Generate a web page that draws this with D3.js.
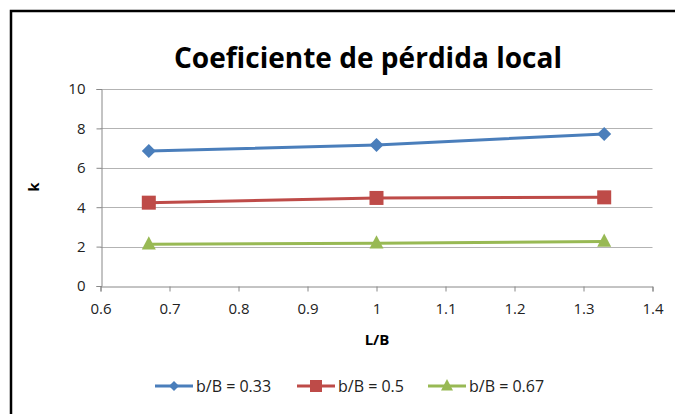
<!DOCTYPE html>
<html><head><meta charset="utf-8">
<script src="https://cdn.jsdelivr.net/npm/d3@7"></script>
<style>body{margin:0;background:#fff}svg{display:block}</style>
</head><body>
<svg id="c" width="675" height="414"></svg>
<script>
const xValues = [0.67, 1, 1.33];
const seriesNames = ["b/B = 0.33", "b/B = 0.5", "b/B = 0.67"];
const series033 = [6.85, 7.16, 7.72];
const series05 = [4.23, 4.47, 4.50];
const series067 = [2.12, 2.17, 2.26];
const xTicks = [0.6, 0.7, 0.8, 0.9, 1, 1.1, 1.2, 1.3, 1.4];
const yTicks = [0, 2, 4, 6, 8, 10];
const colors = ["#4a7ebb", "#be4b48", "#98b954"];
const markers = ["diamond", "square", "triangle"];

const svg = d3.select("#c");
const font = "Open Sans, Liberation Sans, sans-serif";

svg.append("rect").attr("x", 0).attr("y", 0).attr("width", 675).attr("height", 414).attr("fill", "#fff");
// frame
svg.append("path").attr("d", "M11,420 L11,11 L680,11").attr("fill", "none").attr("stroke", "#000").attr("stroke-width", 2.5);

const x = d3.scaleLinear().domain([0.6, 1.4]).range([100.5, 652.5]);
const y = d3.scaleLinear().domain([0, 10]).range([286, 89]);

// gridlines
svg.append("g").selectAll("line").data(yTicks.filter(d => d > 0)).join("line")
  .attr("x1", x(0.6)).attr("x2", x(1.4)).attr("y1", d => Math.round(y(d)) + 0.5).attr("y2", d => Math.round(y(d)) + 0.5)
  .attr("stroke", "#b3b3b3").attr("stroke-width", 1);

const xAxis = svg.append("g").attr("transform", `translate(0,${Math.round(y(0)) + 0.5})`)
  .call(d3.axisBottom(x).tickValues(xTicks).tickFormat(d => String(d)).tickSize(5).tickPadding(12));
const yAxis = svg.append("g").attr("transform", `translate(${Math.round(x(0.6)) + 0.5},0)`)
  .call(d3.axisLeft(y).tickValues(yTicks).tickSize(5).tickPadding(11));
[xAxis, yAxis].forEach(g => {
  g.select(".domain").attr("stroke", "#888").attr("stroke-width", 1);
  g.selectAll(".tick line").attr("stroke", "#888");
  g.selectAll("text").attr("font-family", font).attr("font-size", 15).attr("fill", "#222");
});

// title
svg.append("text").attr("x", 368).attr("y", 68).attr("text-anchor", "middle")
  .attr("font-family", font).attr("font-weight", "bold").attr("font-size", 29)
  .attr("textLength", 388).attr("lengthAdjust", "spacingAndGlyphs")
  .text("Coeficiente de pérdida local");

// axis titles
svg.append("text").attr("transform", "translate(39,187) rotate(-90)").attr("text-anchor", "middle")
  .attr("font-family", font).attr("font-weight", "bold").attr("font-size", 15).text("k");
svg.append("text").attr("x", 377).attr("y", 345).attr("text-anchor", "middle")
  .attr("font-family", font).attr("font-weight", "bold").attr("font-size", 15).text("L/B");

const allSeries = [series033, series05, series067];
const line = d3.line().x((d, i) => x(xValues[i])).y(d => y(d));

function marker(g, type, cx, cy, s, color) {
  if (type === "diamond") {
    g.append("path").attr("d", `M${cx},${cy - s} L${cx + s},${cy} L${cx},${cy + s} L${cx - s},${cy} Z`).attr("fill", color);
  } else if (type === "square") {
    g.append("rect").attr("x", cx - s).attr("y", cy - s).attr("width", 2 * s).attr("height", 2 * s).attr("fill", color);
  } else {
    g.append("path").attr("d", `M${cx},${cy - s * 1.15} L${cx + s},${cy + s * 0.75} L${cx - s},${cy + s * 0.75} Z`).attr("fill", color);
  }
}

allSeries.forEach((vals, k) => {
  const g = svg.append("g");
  g.append("path").datum(vals).attr("d", line).attr("fill", "none").attr("stroke", colors[k]).attr("stroke-width", 3);
  vals.forEach((v, i) => marker(g, markers[k], x(xValues[i]), y(v), 7, colors[k]));
});

// legend
const legX = [155, 297, 428];
seriesNames.forEach((name, k) => {
  const g = svg.append("g");
  const ly = 386;
  g.append("line").attr("x1", legX[k]).attr("x2", legX[k] + 38).attr("y1", ly).attr("y2", ly)
    .attr("stroke", colors[k]).attr("stroke-width", 3);
  marker(g, markers[k], legX[k] + 19, ly, k === 0 ? 5 : 6, colors[k]);
  g.append("text").attr("x", legX[k] + 41).attr("y", ly + 5.5).attr("font-family", font).attr("font-size", 16)
    .attr("fill", "#222").text(name);
});
</script>
</body></html>
